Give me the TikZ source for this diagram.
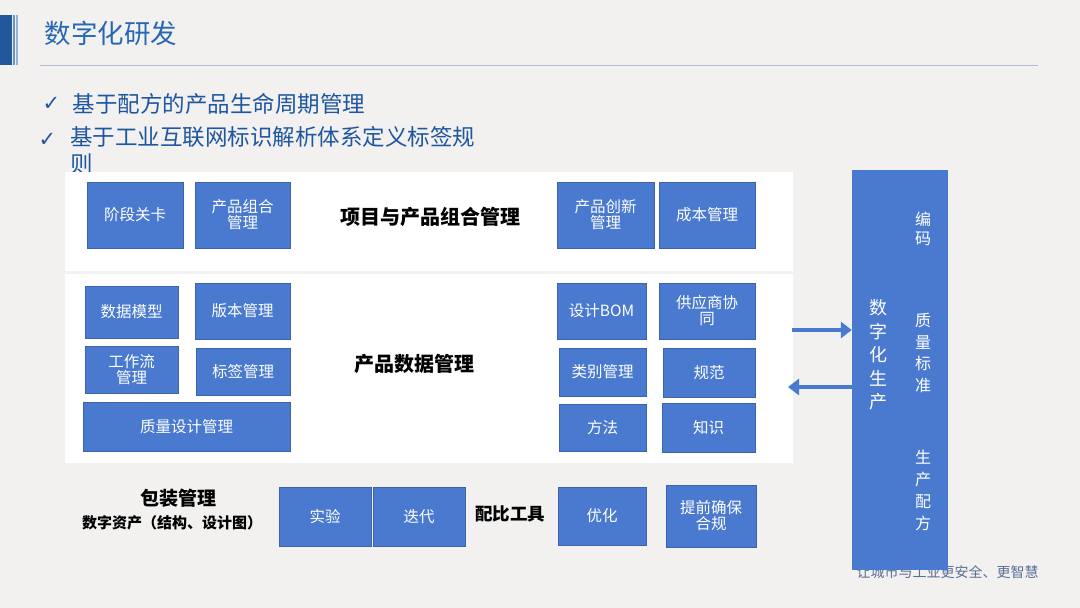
\documentclass[tikz,border=0pt]{standalone}
\usepackage{fontspec}
\setmainfont{Noto Sans CJK SC}
\newfontfamily\cjk{Noto Sans CJK SC}
\newfontfamily\symfont{DejaVu Sans}
\usetikzlibrary{arrows.meta}
\definecolor{bg}{HTML}{F2F1F0}
\definecolor{boxblue}{RGB}{73,122,207}
\definecolor{boxedge}{RGB}{60,100,170}
\definecolor{titleblue}{RGB}{38,104,180}
\definecolor{bulletblue}{RGB}{30,86,160}
\definecolor{lineblue}{RGB}{180,190,210}
\definecolor{footgray}{RGB}{90,110,150}
\tikzset{
  bbox/.style={fill=boxblue, draw=boxedge, line width=0.5pt, text=white, align=center, font=\fontsize{15.5}{16}\selectfont, inner sep=0pt},
  panel/.style={fill=white, draw=none},
  plabel/.style={text=black, font=\fontsize{20}{22}\selectfont\bfseries},
  blabel/.style={text=black, font=\fontsize{15}{17}\selectfont\bfseries},
  bigarrow/.style={draw=boxblue, line width=4.5pt, -{Triangle[length=11pt,width=16pt]}},
  vtext/.style={text=white, align=center, font=\fontsize{18}{23.5}\selectfont},
}
\begin{document}
\begin{tikzpicture}[x=1pt,y=-1pt]
\fill[bg] (0,0) rectangle (1080,608);
\useasboundingbox (0,0) rectangle (1080,608);
% left bar
\fill[titleblue!85!black] (0,15) rectangle (12,65);
\fill[titleblue!70] (13,15) rectangle (15,65);
\fill[titleblue!50] (16,15) rectangle (18,65);
\node[anchor=west, text=titleblue, font=\fontsize{26.5}{28}\selectfont] (title) at (41,33) {数字化研发};
\draw[lineblue, line width=1pt] (40,65) -- (1038,65);
% bullets
\node[anchor=west, text=bulletblue, font=\symfont\fontsize{21}{23}\selectfont\bfseries] (ck1) at (39,104) {✓};
\node[anchor=west, text=bulletblue, font=\fontsize{22.5}{24}\selectfont] (b1) at (69,104) {基于配方的产品生命周期管理};
\node[anchor=west, text=bulletblue, font=\symfont\fontsize{21}{23}\selectfont\bfseries] (ck2) at (35,140) {✓};
\node[anchor=north west, text=bulletblue, align=left, font=\fontsize{22.5}{27}\selectfont, inner sep=0pt] (b2) at (70,126) {基于工业互联网标识解析体系定义标签规\\则};
% panels
\fill[panel] (65,172) rectangle (793,271);
\fill[panel] (65,274) rectangle (793,463);
% top row
\node[bbox, minimum width=96pt, minimum height=66pt] (jd) at (135,215) {阶段关卡};
\node[bbox, minimum width=95pt, minimum height=66pt] (cpzh) at (242.5,215) {产品组合\\管理};
\node[plabel] (xm) at (430,217) {项目与产品组合管理};
\node[bbox, minimum width=97pt, minimum height=66pt] (cpcx) at (605.5,215) {产品创新\\管理};
\node[bbox, minimum width=96pt, minimum height=66pt] (cb) at (707,215) {成本管理};
% second panel
\node[bbox, minimum width=93pt, minimum height=52pt] (sjmx) at (131.5,312) {数据模型};
\node[bbox, minimum width=95pt, minimum height=56pt] (bb) at (242.5,311) {版本管理};
\node[bbox, minimum width=93pt, minimum height=47pt] (gzl) at (131.5,369.5) {工作流\\管理};
\node[bbox, minimum width=94pt, minimum height=47pt] (bq) at (243,371.5) {标签管理};
\node[bbox, minimum width=207pt, minimum height=49pt] (zlsj) at (186.5,426.5) {质量设计管理};
\node[plabel] (cpsj) at (414,364) {产品数据管理};
\node[bbox, minimum width=89pt, minimum height=56pt] (bom) at (601.5,311) {设计BOM};
\node[bbox, minimum width=96pt, minimum height=56pt] (gys) at (707,311) {供应商协\\同};
\node[bbox, minimum width=87pt, minimum height=48pt] (lb) at (602.5,372) {类别管理};
\node[bbox, minimum width=92pt, minimum height=49pt] (gf) at (709,372.5) {规范};
\node[bbox, minimum width=87pt, minimum height=47pt] (ff) at (602.5,427.5) {方法};
\node[bbox, minimum width=93pt, minimum height=49pt] (zs) at (708.5,427.5) {知识};
% bottom
\node[blabel, font=\fontsize{19}{21}\selectfont\bfseries] (bz) at (178,498) {包装管理};
\node[blabel] (szzc) at (172,523) {数字资产（结构、设计图）};
\node[bbox, minimum width=92pt, minimum height=59pt] (sy) at (325,516.5) {实验};
\node[bbox, minimum width=92pt, minimum height=59pt] (dd) at (419,516.5) {迭代};
\node[blabel, font=\fontsize{17.5}{19}\selectfont\bfseries] (pb) at (510,514) {配比工具};
\node[bbox, minimum width=88pt, minimum height=58pt] (yh) at (602,516) {优化};
\node[bbox, minimum width=90pt, minimum height=62pt] (tq) at (711,516) {提前确保\\合规};
% footer text (partly hidden)
\node[anchor=west, text=footgray, font=\fontsize{14}{16}\selectfont] (foot) at (853,572) {让城市与工业更安全、更智慧};
% big box
\node[fill=boxblue, minimum width=96pt, minimum height=400pt, inner sep=0pt] (big) at (900,370) {};
\node[vtext] (szh) at (878,355) {数\\字\\化\\生\\产};
\node[vtext, font=\fontsize{16}{19}\selectfont] (bm) at (923,229) {编\\码};
\node[vtext, font=\fontsize{16}{21.5}\selectfont] (zl) at (923,353) {质\\量\\标\\准};
\node[vtext, font=\fontsize{16}{22}\selectfont] (sc) at (923,490) {生\\产\\配\\方};
% arrows
\coordinate (a1s) at (792,330);
\coordinate (a2e) at (788,387);
\draw[bigarrow] (a1s) -- (a1s -| big.west);
\draw[bigarrow] (a2e -| big.west) -- (a2e);
\end{tikzpicture}
\end{document}
